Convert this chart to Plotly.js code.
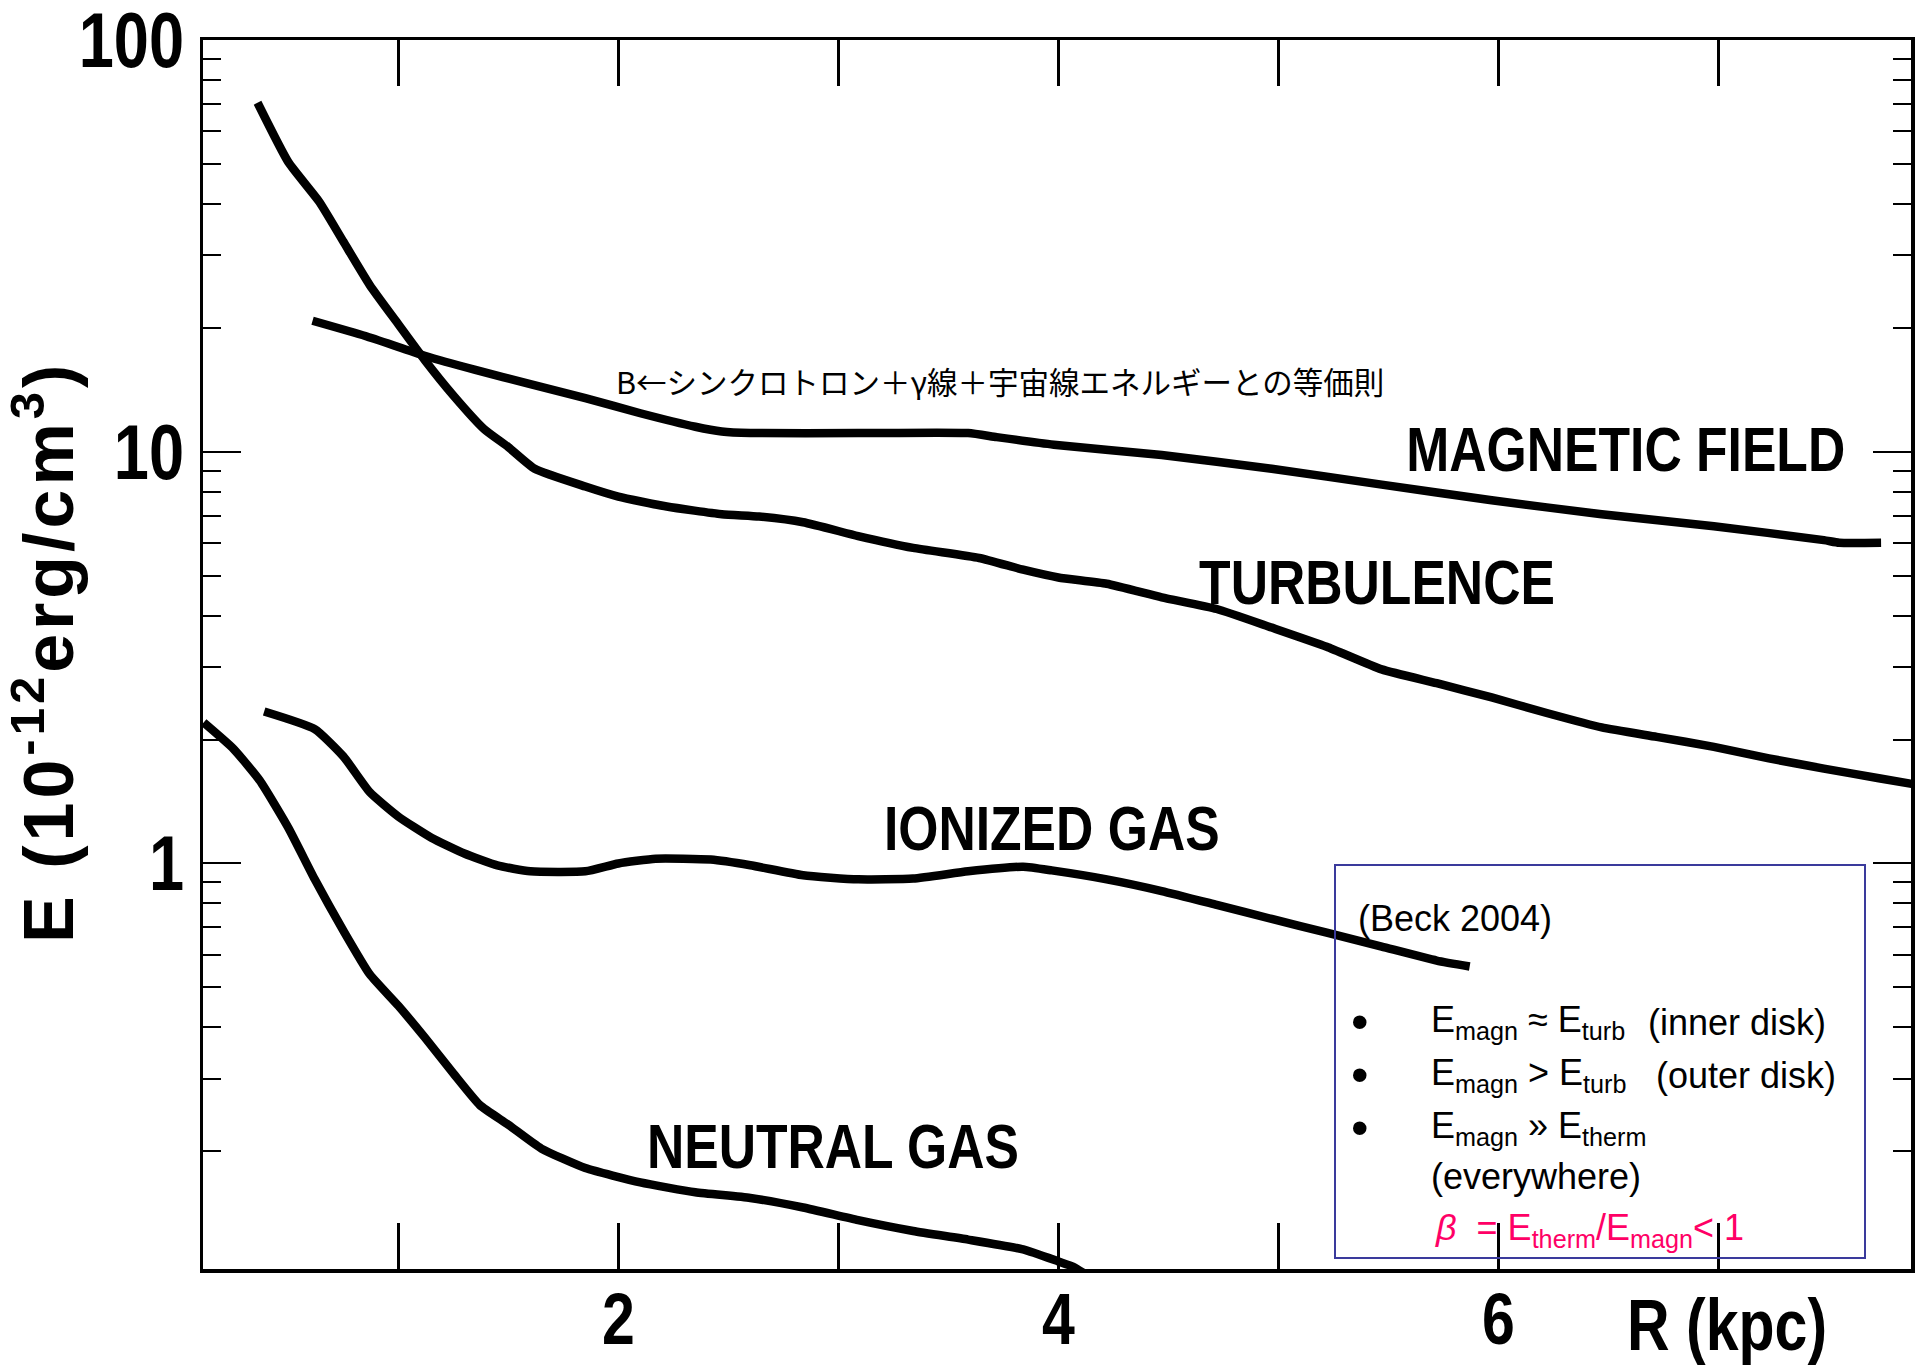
<!DOCTYPE html>
<html>
<head>
<meta charset="utf-8">
<script src="https://cdn.plot.ly/plotly-3.0.1.min.js"></script>
<style>html,body{margin:0;padding:0;background:#fff;}#chart{width:1915px;height:1370px;}</style>
</head>
<body>
<div id="chart"></div>
<script>
// ---- data (R in kpc, E in 1e-12 erg/cm^3) ----
const magR = [0.61, 0.85, 1.12, 1.35, 1.60, 1.85, 2.10, 2.35, 2.47, 2.60, 3.09, 3.59, 3.72, 3.98, 4.47, 4.97, 5.47, 5.97, 6.47, 6.98, 7.48, 7.55, 7.74];
const magE = [20.8, 19.1, 17.1, 15.8, 14.6, 13.5, 12.4, 11.5, 11.2, 11.1, 11.1, 11.1, 10.85, 10.4, 9.82, 9.09, 8.32, 7.62, 7.05, 6.59, 6.10, 6.01, 6.01];

const turbR = [0.36, 0.50, 0.64, 0.75, 0.87, 1.00, 1.12, 1.25, 1.39, 1.50, 1.62, 1.85, 2.00, 2.22, 2.47, 2.64, 2.84, 3.09, 3.34, 3.64, 3.84, 4.00, 4.22, 4.47, 4.72, 4.97, 5.22, 5.47, 5.72, 5.97, 6.22, 6.47, 6.72, 6.98, 7.23, 7.48, 7.73, 7.88];
const turbE = [70.4, 50.5, 40.5, 32.4, 25.4, 20.4, 16.7, 13.7, 11.35, 10.26, 9.09, 8.23, 7.78, 7.36, 7.05, 6.96, 6.74, 6.24, 5.84, 5.52, 5.17, 4.95, 4.78, 4.43, 4.15, 3.74, 3.36, 2.96, 2.74, 2.53, 2.32, 2.14, 2.03, 1.92, 1.80, 1.70, 1.61, 1.56];

const ionR = [0.39, 0.62, 0.75, 0.87, 1.00, 1.15, 1.30, 1.45, 1.60, 1.85, 2.00, 2.17, 2.42, 2.60, 2.84, 3.09, 3.34, 3.59, 3.84, 3.97, 4.22, 4.47, 4.72, 4.97, 5.22, 5.47, 5.72, 5.87];
const ionE = [2.34, 2.12, 1.82, 1.49, 1.30, 1.155, 1.057, 0.989, 0.957, 0.957, 1.0, 1.027, 1.022, 0.99, 0.936, 0.915, 0.919, 0.957, 0.982, 0.962, 0.915, 0.857, 0.793, 0.733, 0.679, 0.628, 0.581, 0.562];

const neuR = [0.115, 0.25, 0.37, 0.50, 0.62, 0.75, 0.87, 1.00, 1.12, 1.25, 1.37, 1.50, 1.65, 1.85, 2.10, 2.35, 2.60, 2.84, 3.09, 3.34, 3.59, 3.84, 4.00, 4.07, 4.13];
const neuE = [2.20, 1.90, 1.59, 1.22, 0.915, 0.687, 0.538, 0.451, 0.378, 0.309, 0.259, 0.232, 0.203, 0.182, 0.168, 0.159, 0.154, 0.146, 0.136, 0.128, 0.122, 0.1155, 0.108, 0.1047, 0.100];

const seriesNames = ['MAGNETIC FIELD', 'TURBULENCE', 'IONIZED GAS', 'NEUTRAL GAS'];

const xTickVals = [2, 4, 6];
const xTickText = ['2', '4', '6'];
const xMinorVals = [1, 3, 5, 7];
const yTickVals = [1, 10, 100];
const yTickText = ['1', '10', '100'];

// ---- styling ----
const FA = 'Liberation Sans, Arial, sans-serif';
const FJ = 'Noto Sans CJK JP, sans-serif';
const NARROW = 0.82;   // Arial-Narrow look: horizontal condensing of Liberation Sans
const W = 1915, H = 1370, L = 203, R = 4, T = 40, B = 101;
const PW = W - L - R, PH = H - T - B;
const px = X => (X - L) / PW;          // pixel -> paper x
const py = Y => (H - B - Y) / PH;      // pixel -> paper y

const lineStyle = {color: 'black', width: 8.5, shape: 'spline', smoothing: 0.5};
const traces = [
  {x: magR, y: magE, name: seriesNames[0]},
  {x: turbR, y: turbE, name: seriesNames[1]},
  {x: ionR, y: ionE, name: seriesNames[2]},
  {x: neuR, y: neuE, name: seriesNames[3]}
].map(t => Object.assign(t, {type: 'scatter', mode: 'lines', line: lineStyle, hoverinfo: 'skip'}));

function ann(text, X, Y, opts) {
  return Object.assign({text: text, xref: 'paper', yref: 'paper', x: px(X), y: py(Y),
    xanchor: 'center', yanchor: 'middle', showarrow: false}, opts);
}
const curveFont = {family: FA, size: 63, weight: 'bold', color: 'black'};
const boxFont = {family: FA, size: 36, color: 'black'};
const bulletFont = {family: FA, size: 50, color: 'black'};
const pink = '#ff0066';

const annotations = [
  ann(seriesNames[0], 1625, 449, {font: curveFont}),
  ann(seriesNames[1], 1377, 582, {font: curveFont}),
  ann(seriesNames[2], 1052, 828, {font: curveFont}),
  ann(seriesNames[3], 833, 1146, {font: curveFont}),
  ann('R (kpc)', 1727, 1325, {font: {family: FA, size: 72, weight: 'bold', color: 'black'}}),
  ann('B←シンクロトロン＋γ線＋宇宙線エネルギーとの等価則', 614, 381, {xanchor: 'left', font: {family: FJ, size: 30.5, color: 'black'}}),
  ann('E (10<sup>-12</sup>erg/cm<sup>3</sup>)', 44, 652, {textangle: -90, font: {family: FA, size: 70, weight: 'bold', color: 'black'}}),
  ann('(Beck 2004)', 1356, 918, {xanchor: 'left', font: boxFont}),
  ann('•', 1360, 1022, {font: bulletFont}),
  ann('•', 1360, 1075, {font: bulletFont}),
  ann('•', 1360, 1128, {font: bulletFont}),
  ann('E<sub>magn</sub> ≈ E<sub>turb</sub>', 1429, 1022, {xanchor: 'left', font: boxFont}),
  ann('(inner disk)', 1646, 1022, {xanchor: 'left', font: boxFont}),
  ann('E<sub>magn</sub> &gt; E<sub>turb</sub>', 1429, 1075, {xanchor: 'left', font: boxFont}),
  ann('(outer disk)', 1654, 1075, {xanchor: 'left', font: boxFont}),
  ann('E<sub>magn</sub> » E<sub>therm</sub>', 1429, 1128, {xanchor: 'left', font: boxFont}),
  ann('(everywhere)', 1429, 1176, {xanchor: 'left', font: boxFont}),
  ann('<i>β</i>&nbsp;&nbsp;= E<sub>therm</sub>/E<sub>magn</sub>&lt; 1', 1433, 1230, {xanchor: 'left', font: {family: FA, size: 36, color: pink}})
];
const NARROW_ANN = [0, 1, 2, 3, 4];
const YTITLE_ANN = 6;

const shapes = [
  {type: 'rect', xref: 'paper', yref: 'paper', x0: px(1335), x1: px(1865), y0: py(1258), y1: py(865),
   line: {color: '#3a3a9c', width: 2}, fillcolor: 'rgba(0,0,0,0)', layer: 'above'}
];

const layout = {
  width: W, height: H,
  margin: {l: L, r: R, t: T, b: B, pad: 0},
  paper_bgcolor: 'white', plot_bgcolor: 'white',
  showlegend: false,
  xaxis: {
    range: [0.112, 7.876], showgrid: false, zeroline: false,
    showline: true, linecolor: 'black', linewidth: 3.5, mirror: 'allticks',
    ticks: 'inside', ticklen: 46, tickwidth: 2.5, tickcolor: 'black',
    tickmode: 'array', tickvals: xTickVals, ticktext: xTickText,
    tickfont: {family: FA, size: 72, weight: 'bold', color: 'black'},
    ticklabelstandoff: -15, ticklabeloverflow: 'allow',
    minor: {tickmode: 'array', tickvals: xMinorVals, ticks: 'inside', ticklen: 46, tickwidth: 2.5, tickcolor: 'black', showgrid: false}
  },
  yaxis: {
    type: 'log', range: [-0.985, 2], showgrid: false, zeroline: false,
    showline: true, linecolor: 'black', linewidth: 3.5, mirror: 'allticks',
    ticks: 'inside', ticklen: 38, tickwidth: 2, tickcolor: 'black',
    tickmode: 'array', tickvals: yTickVals, ticktext: yTickText,
    tickfont: {family: FA, size: 77, weight: 'bold', color: 'black'},
    ticklabelstandoff: 0, ticklabeloverflow: 'allow',
    minor: {ticks: 'inside', ticklen: 18, tickwidth: 2, tickcolor: 'black', dtick: 'D1', showgrid: false}
  },
  annotations: annotations,
  shapes: shapes
};

// condense an SVG text horizontally about its own anchor x, keeping any transform Plotly already set
function condenseAttr(el) {
  const ax = parseFloat(el.getAttribute('x')) || 0;
  const prev = el.getAttribute('transform') || '';
  el.setAttribute('transform', prev + ' translate(' + ax + ',0) scale(' + NARROW + ',1) translate(' + (-ax) + ',0)');
}
function condenseCss(el) {
  el.style.transformBox = 'fill-box';
  el.style.transformOrigin = 'center';
  el.style.transform = 'scaleX(' + NARROW + ')';
}

Plotly.newPlot('chart', traces, layout, {displayModeBar: false, staticPlot: true}).then(gd => {
  gd.querySelectorAll('.xtick text, .ytick text').forEach(condenseAttr);
  NARROW_ANN.forEach(i => {
    gd.querySelectorAll('.annotation[data-index="' + i + '"] text').forEach(condenseCss);
  });
  gd.querySelectorAll('.annotation[data-index="' + YTITLE_ANN + '"] text').forEach(el => {
    el.style.letterSpacing = '4px';
  });
});
</script>
</body>
</html>
